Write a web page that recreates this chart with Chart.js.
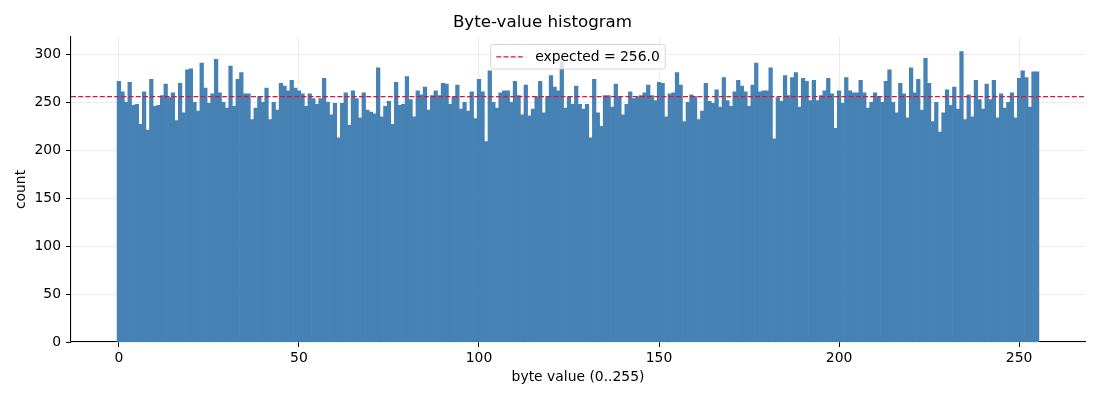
<!DOCTYPE html>
<html><head><meta charset="utf-8">
<script src="https://cdn.jsdelivr.net/npm/chart.js@4.4.1/dist/chart.umd.min.js"></script>
<style>html,body{margin:0;padding:0;background:#fff;} #wrap{width:1100px;height:400px;}</style>
</head><body><div id="wrap"><canvas id="c" width="1100" height="400"></canvas></div>
<script>
// categories: byte values 0..255
const byteValues = Array.from({length: 256}, (_, i) => i);
// counts per byte value
const counts = [
 272,261,250,271,247,248,227,261,221,274,246,247,257,269,255,260,
 231,270,239,284,285,250,241,291,265,249,259,295,260,250,244,288,
 246,274,281,259,259,232,244,256,250,265,232,250,242,270,267,262,
 273,265,262,259,246,259,254,248,254,275,250,237,249,213,249,260,
 226,262,254,234,260,242,240,238,286,235,246,251,227,271,247,248,
 277,253,235,262,258,266,242,257,262,257,270,269,248,256,268,243,
 250,241,261,233,274,261,209,283,250,244,260,262,262,250,272,257,
 237,268,236,243,256,272,239,256,278,266,262,292,244,256,248,267,
 248,243,248,213,274,239,225,257,257,245,269,256,237,248,261,254,
 256,257,260,268,257,252,271,270,235,259,260,281,268,230,250,258,
 256,232,241,270,251,249,263,245,276,252,246,261,273,267,261,246,
 268,291,261,262,262,286,212,255,251,278,257,276,281,245,275,272,
 252,273,252,257,262,275,259,223,262,249,276,262,260,260,273,260,
 244,250,260,256,250,272,284,250,239,270,259,234,286,260,274,242,
 296,270,230,250,219,239,263,247,266,243,303,232,258,235,273,253,
 243,269,253,273,234,259,244,250,260,234,275,283,276,245,282,282
];
const expectedValue = 256.0;
const xTickValues = [0, 50, 100, 150, 200, 250];
const yTickValues = [0, 50, 100, 150, 200, 250, 300];

const FONT = 'DejaVu Sans';
const FS = 13.9;

const legendPlugin = {
  id: 'boxLegend',
  afterDraw(chart) {
    const {ctx, chartArea} = chart;
    ctx.save();
    ctx.font = FS + 'px "' + FONT + '"';
    const label = 'expected = ' + expectedValue.toFixed(1);
    const tw = ctx.measureText(label).width;
    const pad = 0.4 * FS, hl = 2 * FS, htp = 0.8 * FS;
    const w = pad + hl + htp + tw + pad;
    const h = 24.5;
    const cx = (chartArea.left + chartArea.right) / 2;
    const x = cx - w / 2, y = chartArea.top + 7.5;
    const r = 2.8;
    ctx.beginPath();
    ctx.moveTo(x + r, y);
    ctx.lineTo(x + w - r, y);
    ctx.arcTo(x + w, y, x + w, y + r, r);
    ctx.lineTo(x + w, y + h - r);
    ctx.arcTo(x + w, y + h, x + w - r, y + h, r);
    ctx.lineTo(x + r, y + h);
    ctx.arcTo(x, y + h, x, y + h - r, r);
    ctx.lineTo(x, y + r);
    ctx.arcTo(x, y, x + r, y, r);
    ctx.closePath();
    ctx.fillStyle = 'rgba(255,255,255,0.8)';
    ctx.fill();
    ctx.strokeStyle = 'rgba(204,204,204,0.8)';
    ctx.lineWidth = 1;
    ctx.stroke();
    const ly = y + h / 2;
    ctx.beginPath();
    ctx.setLineDash([5, 2.2]);
    ctx.strokeStyle = '#dc143c';
    ctx.lineWidth = 1.3;
    ctx.moveTo(x + pad, ly);
    ctx.lineTo(x + pad + hl, ly);
    ctx.stroke();
    ctx.setLineDash([]);
    ctx.fillStyle = '#000';
    ctx.textBaseline = 'middle';
    ctx.textAlign = 'left';
    ctx.fillText(label, x + pad + hl + htp, ly + 0.5);
    ctx.restore();
  }
};

new Chart(document.getElementById('c'), {
  type: 'bar',
  data: {
    datasets: [
      {
        type: 'line',
        label: 'expected = ' + expectedValue.toFixed(1),
        data: [{x: -13.3, y: expectedValue}, {x: 268.3, y: expectedValue}],
        borderColor: '#dc143c',
        borderWidth: 1.3,
        borderDash: [5, 2.2],
        pointRadius: 0,
        fill: false,
        order: 0
      },
      {
        type: 'bar',
        label: 'count',
        data: byteValues.map((b, i) => ({x: b, y: counts[i]})),
        backgroundColor: '#4682b4',
        borderWidth: 0,
        barPercentage: 1.0,
        categoryPercentage: 1.0,
        order: 1
      }
    ]
  },
  options: {
    responsive: false,
    animation: false,
    devicePixelRatio: 1,
    layout: {padding: {left: 0, right: 15, top: 0, bottom: 0}},
    plugins: {
      legend: {display: false},
      tooltip: {enabled: false},
      title: {
        display: true,
        text: 'Byte-value histogram',
        color: '#000',
        font: {family: FONT, size: 16.7, weight: 'normal', lineHeight: 1.2},
        padding: {top: 13, bottom: 4}
      }
    },
    scales: {
      x: {
        type: 'linear',
        min: -13.3,
        max: 268.3,
        offset: false,
        z: 1,
        afterBuildTicks: (s) => { s.ticks = xTickValues.map(v => ({value: v})); },
        afterFit: (s) => { s.height = 58; },
        ticks: {color: '#000', font: {family: FONT, size: FS}, padding: 3, maxRotation: 0, autoSkip: false},
        grid: {offset: false, color: 'rgba(176,176,176,0.3)', lineWidth: 0.8, tickLength: 5, tickColor: '#000', tickWidth: 1},
        border: {display: true, color: '#000', width: 1.1},
        title: {display: true, text: 'byte value (0..255)', color: '#000',
                font: {family: FONT, size: FS, lineHeight: 1.2}, padding: {top: 0, bottom: 14.5}}
      },
      y: {
        type: 'linear',
        min: 0,
        max: 318.2,
        z: 1,
        afterBuildTicks: (s) => { s.ticks = yTickValues.map(v => ({value: v})); },
        afterFit: (s) => { s.width = 71; },
        ticks: {color: '#000', font: {family: FONT, size: FS}, padding: 5},
        grid: {color: 'rgba(176,176,176,0.3)', lineWidth: 0.8, tickLength: 5, tickColor: '#000', tickWidth: 1},
        border: {display: true, color: '#000', width: 1.1},
        title: {display: true, text: 'count', color: '#000',
                font: {family: FONT, size: FS, lineHeight: 1.2}, padding: {top: 13.5, bottom: 0}}
      }
    }
  },
  plugins: [legendPlugin]
});
</script>
</body></html>
